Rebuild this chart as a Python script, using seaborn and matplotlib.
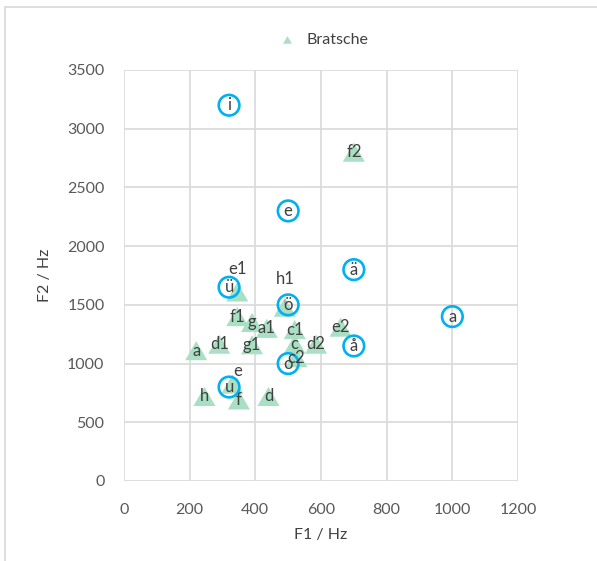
import matplotlib
matplotlib.use("Agg")
import matplotlib.pyplot as plt
from matplotlib.patches import Rectangle
import seaborn as sns
import pandas as pd

# Viola tones (German note names) with their formant frequencies
notes = ["c", "d", "e", "f", "g", "a", "h",
         "c1", "d1", "e1", "f1", "g1", "a1", "h1",
         "c2", "d2", "e2", "f2"]
notes_f1 = [520, 440, 330, 350, 390, 220, 245,
            520, 290, 345, 345, 390, 435, 490,
            525, 585, 660, 700]
notes_f2 = [1165, 720, 825, 690, 1350, 1110, 720,
            1290, 1165, 1610, 1400, 1160, 1300, 1480,
            1050, 1165, 1310, 2800]

# Reference vowels
vowels = ["i", "e", "ä", "a", "ü", "ö", "å", "o", "u"]
vowels_f1 = [320, 500, 700, 1000, 320, 500, 700, 500, 320]
vowels_f2 = [3200, 2300, 1800, 1400, 1650, 1500, 1150, 1000, 800]

x_ticks = [0, 200, 400, 600, 800, 1000, 1200]
y_ticks = [0, 500, 1000, 1500, 2000, 2500, 3000, 3500]

df_notes = pd.DataFrame({"F1": notes_f1, "F2": notes_f2, "label": notes})
df_vowels = pd.DataFrame({"F1": vowels_f1, "F2": vowels_f2, "label": vowels})

sns.set_theme(style="white")
plt.rcParams["font.family"] = ["Lato", "DejaVu Sans"]

W, H = 597, 561
fig = plt.figure(figsize=(W / 100, H / 100), dpi=100)
ax = fig.add_axes([124 / W, 1 - 481 / H, (518 - 124) / W, (481 - 70) / H])

# outer chart frame
fig.patches.append(Rectangle((5 / W, -0.05), 1.2, 1 - 7 / H + 0.05,
                             transform=fig.transFigure, fill=False,
                             edgecolor="#D9D9D9", linewidth=1.2))

tri = [(0, 1), (-1.15, -1), (1.15, -1)]
sns.scatterplot(data=df_notes, x="F1", y="F2", marker=tri, s=250,
                color="#A9DFC2", edgecolor="none", linewidth=0,
                ax=ax, label="Bratsche", zorder=3)
sns.scatterplot(data=df_vowels, x="F1", y="F2", marker="o", s=220,
                facecolor="none", edgecolor="#00B0F0", linewidth=1.9,
                ax=ax, legend=False, zorder=4)

txt_kw = dict(ha="center", va="center", fontsize=12, color="#404040", zorder=5)
moved = {"e1": (0, 23), "h1": (0, 28), "e": (5, 13)}
for lab, x, y in zip(notes, notes_f1, notes_f2):
    if lab in moved:
        dx, dy = moved[lab]
        ax.annotate(lab, (x, y), xytext=(dx, dy), textcoords="offset pixels",
                    arrowprops=dict(arrowstyle="-", color="#A6A6A6", lw=1,
                                    shrinkA=7, shrinkB=2) if lab == "h1" else None,
                    **txt_kw)
    else:
        ax.text(x, y, lab, **txt_kw)
for lab, x, y in zip(vowels, vowels_f1, vowels_f2):
    ax.text(x, y, lab, **txt_kw)

ax.set_xlim(0, 1200)
ax.set_ylim(0, 3500)
ax.set_xticks(x_ticks)
ax.set_yticks(y_ticks)
ax.grid(True, color="#D9D9D9", linewidth=1.2)
ax.set_axisbelow(True)
for s in ax.spines.values():
    s.set_visible(False)
ax.tick_params(axis="both", length=0, labelsize=11.5, labelcolor="#595959")
ax.tick_params(axis="x", pad=16)
ax.tick_params(axis="y", pad=14)
ax.set_xlabel("F1 / Hz", fontsize=11.5, color="#404040", labelpad=8)
ax.set_ylabel("F2 / Hz", fontsize=11.5, color="#404040", labelpad=11)

leg = ax.legend(loc="center", bbox_to_anchor=(320 / W, 1 - 40 / H),
                bbox_transform=fig.transFigure, frameon=False,
                fontsize=11.5, handletextpad=0.2, markerscale=0.4,
                labelcolor="#404040")

fig.savefig("out.png", dpi=100)
